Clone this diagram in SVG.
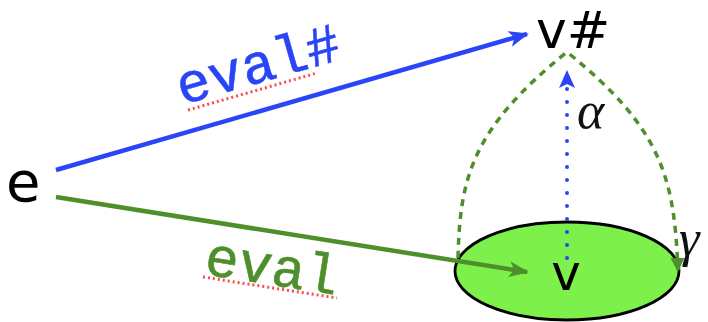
<svg xmlns="http://www.w3.org/2000/svg" width="708" height="322" viewBox="0 0 708 322">
  <style>
    .sym { font-family: "DejaVu Sans", sans-serif; fill: #000; }
    .code { font-family: "Liberation Mono", "DejaVu Sans Mono", monospace; font-size: 56px; stroke-width: 0.6; }
    .greek { font-family: "Liberation Serif", "DejaVu Serif", serif; font-style: italic; fill: #111; }
    .squiggle { stroke: #ff4a4a; stroke-width: 3; stroke-dasharray: 2 3; fill: none; }
    .blue { stroke: #2a45f5; }
    .green { stroke: #4e8f2b; }
  </style>
  <defs>
    <marker id="headBlue" viewBox="0 0 20 16" refX="18" refY="8" markerWidth="20" markerHeight="16" markerUnits="userSpaceOnUse" orient="auto">
      <path d="M0,0 L20,8 L0,16 L5,8 Z" fill="#2a45f5"/>
    </marker>
    <marker id="headGreen" viewBox="0 0 20 16" refX="18" refY="8" markerWidth="20" markerHeight="16" markerUnits="userSpaceOnUse" orient="auto">
      <path d="M0,0 L20,8 L0,16 L5,8 Z" fill="#4e8f2b"/>
    </marker>
    <marker id="headGreenSmall" viewBox="0 0 14 14" refX="12" refY="7" markerWidth="14" markerHeight="14" markerUnits="userSpaceOnUse" orient="auto">
      <path d="M0,0 L14,7 L0,14 Z" fill="#4e8f2b"/>
    </marker>
    <marker id="headBlueSmall" viewBox="0 0 18 16" refX="16" refY="8" markerWidth="18" markerHeight="16" markerUnits="userSpaceOnUse" orient="auto">
      <path d="M0,0 L18,8 L0,16 L4,8 Z" fill="#2a45f5"/>
    </marker>
  </defs>

  <!-- abstract value set (ellipse) -->
  <g id="node-v">
    <ellipse cx="567" cy="271" rx="112" ry="49" fill="#7ef04c" stroke="#000" stroke-width="2.8"/>
    <text class="sym" x="566" y="290" font-size="50" text-anchor="middle">v</text>
  </g>

  <g id="connectors">
    <!-- eval# : e -> v# -->
    <line class="blue" x1="56" y1="170" x2="527" y2="34" stroke-width="4.5" marker-end="url(#headBlue)"/>
    <!-- eval : e -> v -->
    <line class="green" x1="56" y1="197" x2="527" y2="272" stroke-width="4.5" marker-end="url(#headGreen)"/>
    <!-- alpha : v -> v# -->
    <line class="blue" x1="567" y1="258" x2="567" y2="72" stroke-width="4" stroke-linecap="round" stroke-dasharray="0 13" marker-end="url(#headBlueSmall)"/>
    <!-- gamma : v# -> concrete set -->
    <path class="green" d="M458,258 C460,180 470,130 567,52 C664,130 674,180 678,270" fill="none" stroke-width="3.5" stroke-dasharray="7 6" marker-end="url(#headGreenSmall)"/>
  </g>

  <g id="node-e">
    <text class="sym" x="6" y="201" font-size="56">e</text>
  </g>

  <g id="node-vsharp">
    <text class="sym" x="536" y="48" font-size="52">v#</text>
  </g>

  <g id="label-evalsharp">
    <text class="code" x="182" y="105" fill="#2a45f5" stroke="#2a45f5" transform="rotate(-16 182 105)">eval#</text>
    <line class="squiggle" x1="188" y1="110" x2="317" y2="73"/>
  </g>

  <g id="label-eval">
    <text class="code" x="203" y="274" fill="#4e8f2b" stroke="#4e8f2b" transform="rotate(9 203 274)">eval</text>
    <line class="squiggle" x1="203" y1="277" x2="337" y2="298"/>
  </g>

  <g id="label-alpha">
    <text class="greek" x="577" y="128" font-size="52">α</text>
  </g>
  <g id="label-gamma">
    <text class="greek" x="679" y="256" font-size="52">γ</text>
  </g>
</svg>
